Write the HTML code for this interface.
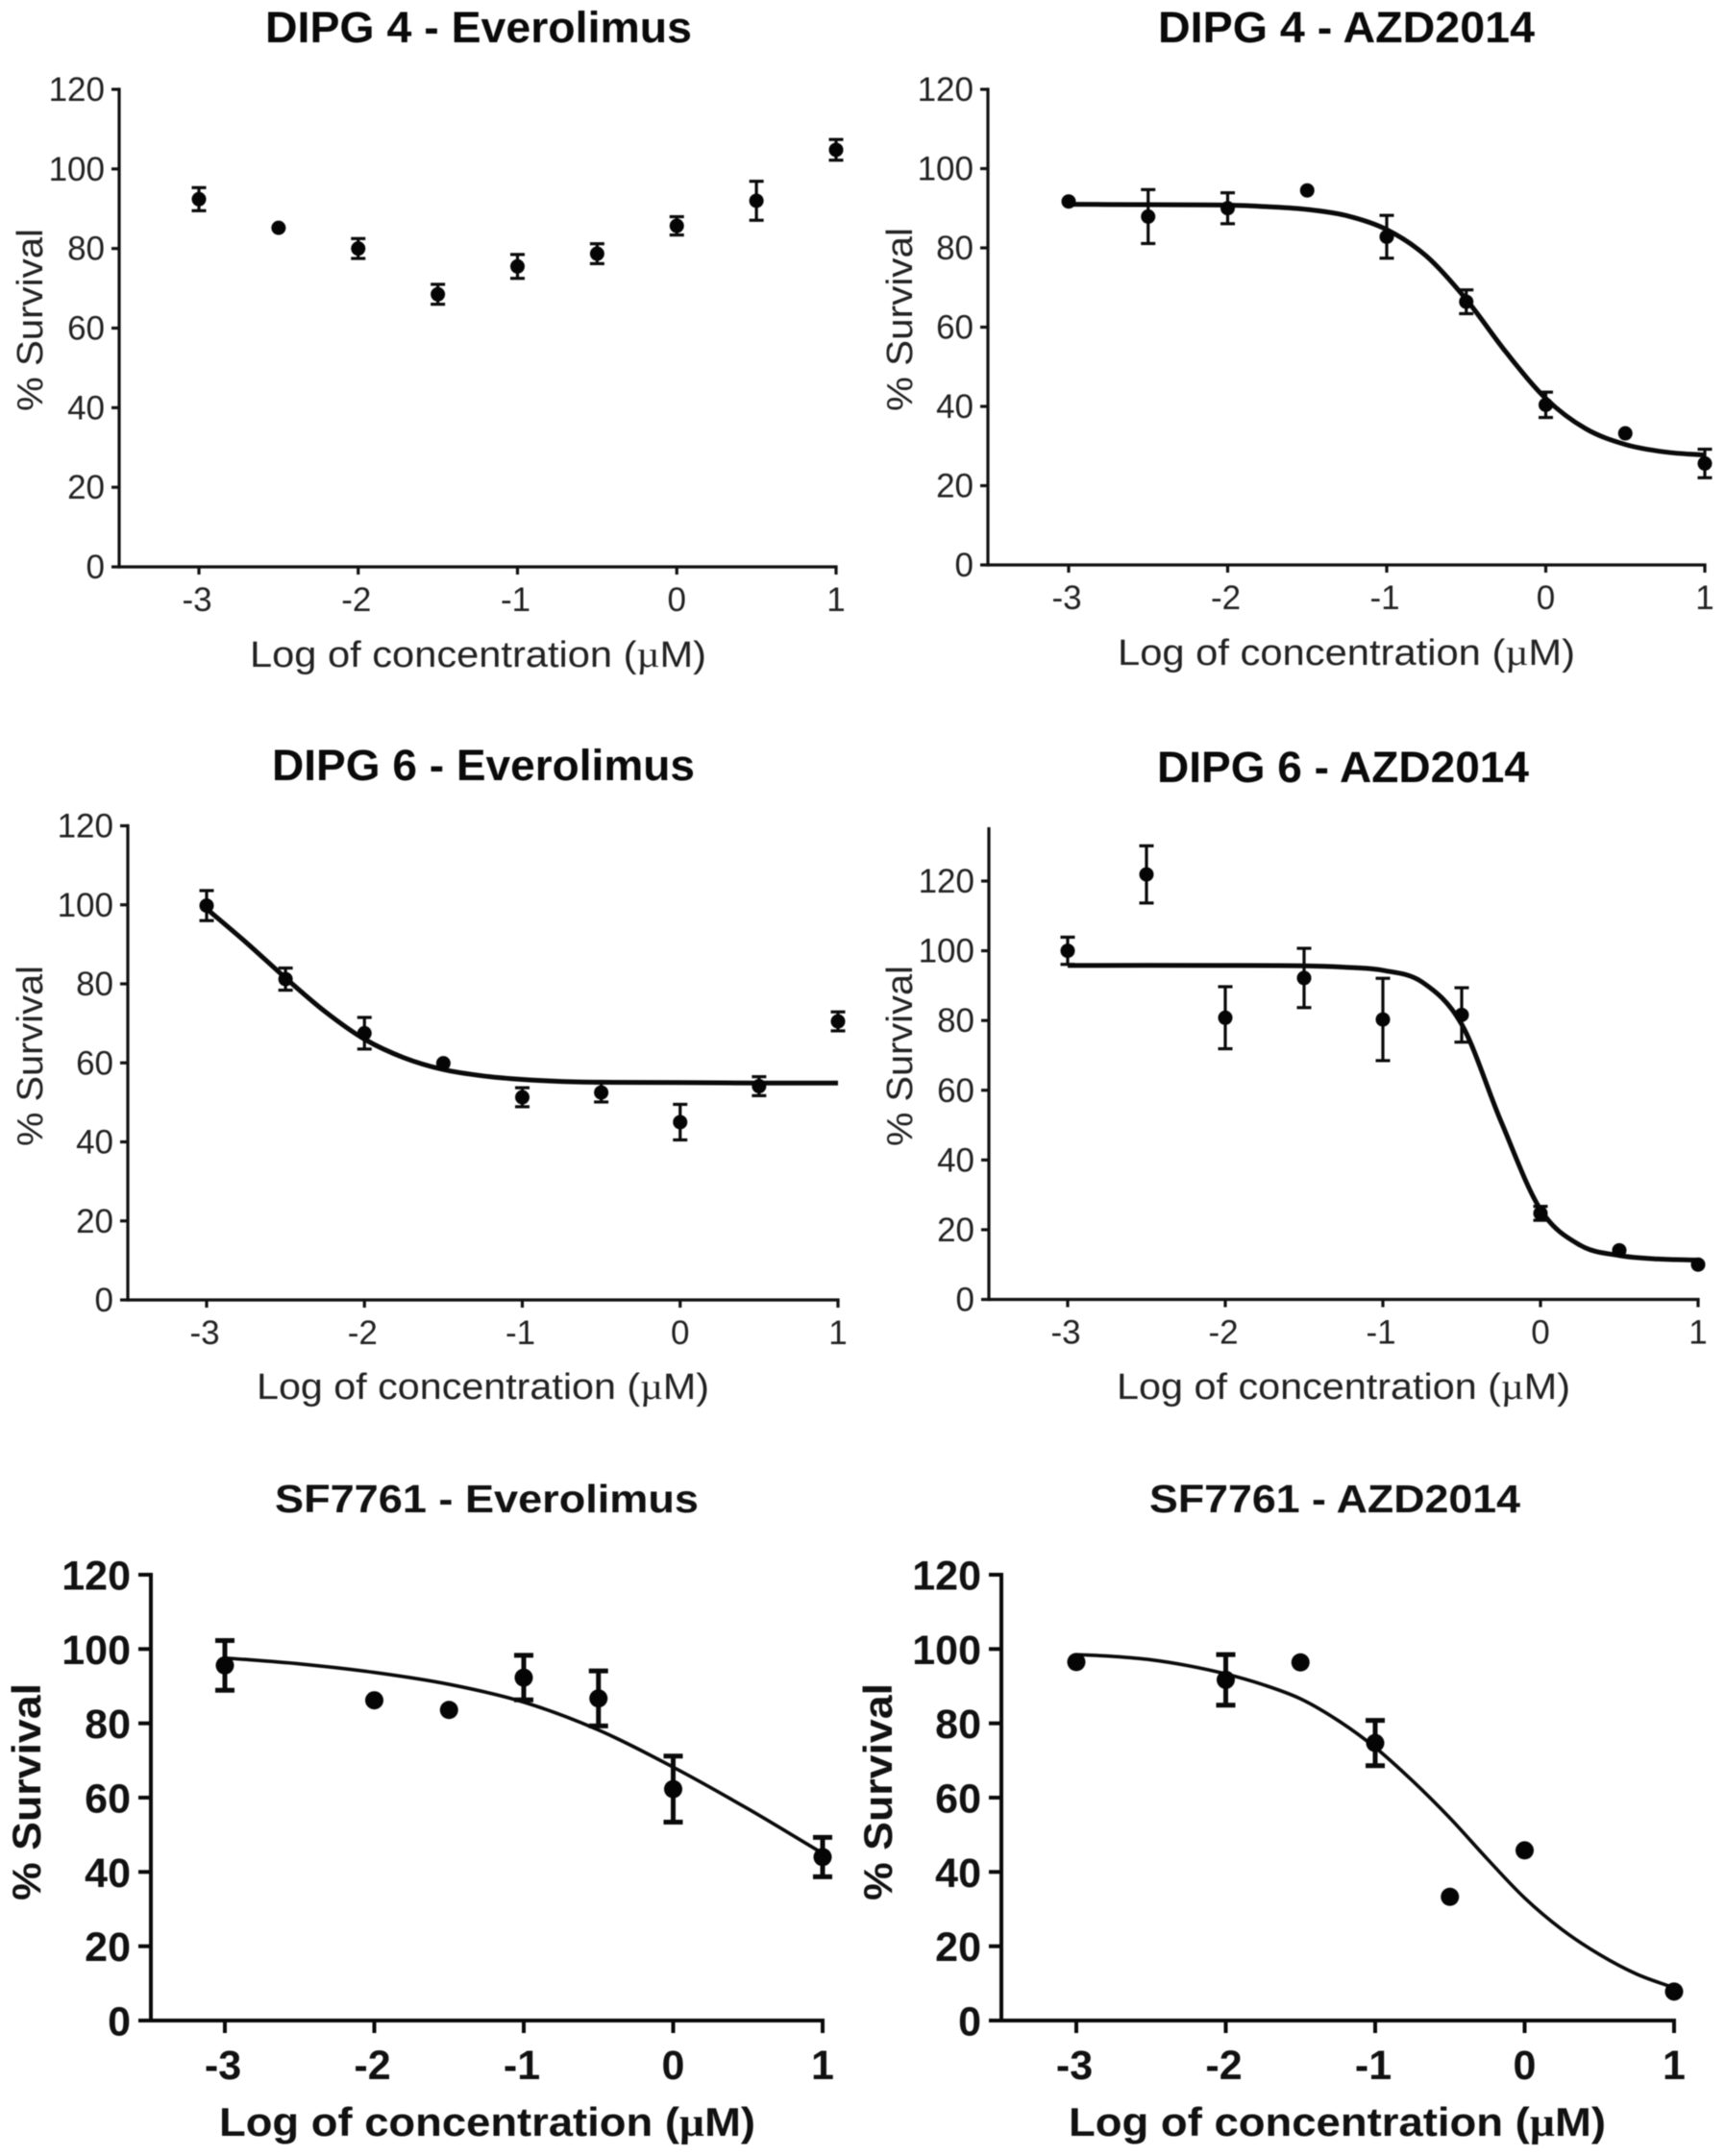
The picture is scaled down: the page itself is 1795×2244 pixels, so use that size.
<!DOCTYPE html>
<html>
<head>
<meta charset="utf-8">
<title>Dose response panels</title>
<style>
html,body{margin:0;padding:0;background:#fff;width:1795px;height:2244px;overflow:hidden}
svg{display:block;filter:blur(0.6px)}
text{font-family:"Liberation Sans",Arial,sans-serif}
.title{font-weight:bold;font-size:45px;fill:#0a0a0a}
.title-b{font-weight:bold;font-size:41px;fill:#111}
.lab{font-size:38px;fill:#222}
.lab-b{font-size:42px;font-weight:bold;fill:#111}
.mu{font-family:"Liberation Serif",serif}
</style>
</head>
<body>
<svg id="figure" width="1795" height="2244" viewBox="0 0 1795 2244" xmlns="http://www.w3.org/2000/svg">
  <rect width="1795" height="2244" fill="#fff"/>

  <g id="p1">
    <text class="title" x="276" y="44" textLength="444" lengthAdjust="spacingAndGlyphs">DIPG 4 - Everolimus</text>
    <text class="lab" x="260" y="694" textLength="475" lengthAdjust="spacingAndGlyphs">Log of concentration (<tspan class="mu">µ</tspan>M)</text>
    <text class="lab" transform="translate(44,428) rotate(-90)" textLength="190" lengthAdjust="spacingAndGlyphs">% Survival</text>
  </g>
  <g id="p2">
    <text class="title" x="1205" y="44" textLength="392" lengthAdjust="spacingAndGlyphs">DIPG 4 - AZD2014</text>
    <text class="lab" x="1163" y="692" textLength="476" lengthAdjust="spacingAndGlyphs">Log of concentration (<tspan class="mu">µ</tspan>M)</text>
    <text class="lab" transform="translate(949,428) rotate(-90)" textLength="191" lengthAdjust="spacingAndGlyphs">% Survival</text>
  </g>
  <g id="p3">
    <text class="title" x="283" y="812" textLength="440" lengthAdjust="spacingAndGlyphs">DIPG 6 - Everolimus</text>
    <text class="lab" x="267" y="1456" textLength="471" lengthAdjust="spacingAndGlyphs">Log of concentration (<tspan class="mu">µ</tspan>M)</text>
    <text class="lab" transform="translate(44,1193) rotate(-90)" textLength="188" lengthAdjust="spacingAndGlyphs">% Survival</text>
  </g>
  <g id="p4">
    <text class="title" x="1204" y="814" textLength="387" lengthAdjust="spacingAndGlyphs">DIPG 6 - AZD2014</text>
    <text class="lab" x="1162" y="1456" textLength="472" lengthAdjust="spacingAndGlyphs">Log of concentration (<tspan class="mu">µ</tspan>M)</text>
    <text class="lab" transform="translate(949,1193) rotate(-90)" textLength="188" lengthAdjust="spacingAndGlyphs">% Survival</text>
  </g>
  <g id="p5">
    <text class="title-b" x="286" y="1574" textLength="441" lengthAdjust="spacingAndGlyphs">SF7761 - Everolimus</text>
    <text class="lab-b" x="228" y="2223" textLength="558" lengthAdjust="spacingAndGlyphs">Log of concentration (<tspan class="mu">µ</tspan>M)</text>
    <text class="lab-b" transform="translate(42,1978) rotate(-90)" textLength="226" lengthAdjust="spacingAndGlyphs">% Survival</text>
  </g>
  <g id="p6">
    <text class="title-b" x="1196" y="1574" textLength="386" lengthAdjust="spacingAndGlyphs">SF7761 - AZD2014</text>
    <text class="lab-b" x="1112" y="2223" textLength="559" lengthAdjust="spacingAndGlyphs">Log of concentration (<tspan class="mu">µ</tspan>M)</text>
    <text class="lab-b" transform="translate(928,1978) rotate(-90)" textLength="226" lengthAdjust="spacingAndGlyphs">% Survival</text>
  </g>
</svg>

<script>
// Shared tick labels
const xTickLabels = [-3, -2, -1, 0, 1];
const yTickLabels = [0, 20, 40, 60, 80, 100, 120];

// DIPG 4 - Everolimus
const p1Doses = [-3, -2.5, -2, -1.5, -1, -0.5, 0, 0.5, 1];
const p1Survival = [92.4, 85.2, 80, 68.5, 75.5, 78.7, 85.7, 92, 104.8];
const p1Errors = [2.9, 0, 2.5, 2.5, 3, 2.5, 2.3, 4.9, 2.6];
const p1CurveDoses = [];
const p1CurveSurvival = [];

// DIPG 4 - AZD2014
const p2Doses = [-3, -2.5, -2, -1.5, -1, -0.5, 0, 0.5, 1];
const p2Survival = [91.7, 87.9, 90, 94.5, 82.8, 66.4, 40.4, 33.2, 25.6];
const p2Errors = [0, 6.8, 3.9, 0, 5.4, 3, 3.2, 0, 3.6];
const p2CurveDoses = [-3, -2.5, -2, -1.75, -1.5, -1.25, -1, -0.75, -0.5, -0.25, 0, 0.25, 0.5, 0.75, 1];
const p2CurveSurvival = [91, 90.9, 90.8, 90.4, 89.7, 88.1, 84.6, 77.9, 67, 53.7, 42, 34.4, 30.4, 28.5, 27.7];

// DIPG 6 - Everolimus
const p3Doses = [-3, -2.5, -2, -1.5, -1, -0.5, 0, 0.5, 1];
const p3Survival = [99.8, 81.2, 67.5, 59.9, 51.3, 52.5, 45, 54.1, 70.5];
const p3Errors = [3.8, 2.8, 4, 0, 2.4, 2.4, 4.5, 2.4, 2.4];
const p3CurveDoses = [-3, -2.75, -2.5, -2.25, -2, -1.75, -1.5, -1.25, -1, -0.75, -0.5, 0, 0.5, 1];
const p3CurveSurvival = [99, 90.5, 81.5, 73, 66, 61.3, 58.3, 56.7, 55.8, 55.3, 55.1, 55, 54.9, 54.9];

// DIPG 6 - AZD2014
const p4Doses = [-3, -2.5, -2, -1.5, -1, -0.5, 0, 0.5, 1];
const p4Survival = [100, 121.9, 80.8, 92.2, 80.3, 81.6, 24.7, 14.1, 10];
const p4Errors = [3.9, 8.2, 8.9, 8.5, 11.8, 7.8, 2, 0, 0];
const p4CurveDoses = [-3, -2, -1.5, -1.25, -1, -0.75, -0.5, -0.25, 0, 0.25, 0.5, 0.75, 1];
const p4CurveSurvival = [95.8, 95.8, 95.7, 95.3, 94.4, 91, 78.9, 51, 25.8, 15.6, 12.6, 11.6, 11.3];

// SF7761 - Everolimus
const p5Doses = [-3, -2, -1.5, -1, -0.5, 0, 1];
const p5Survival = [95.6, 86.2, 83.6, 92.3, 86.7, 62.3, 44];
const p5Errors = [6.7, 0, 0, 6, 7.4, 8.9, 5.3];
const p5CurveDoses = [-3, -2.5, -2, -1.5, -1, -0.5, 0, 0.5, 1];
const p5CurveSurvival = [97.6, 96, 93.7, 90.5, 85.7, 78.2, 68.2, 57, 45];

// SF7761 - AZD2014
const p6Doses = [-3, -2, -1.5, -1, -0.5, 0, 1];
const p6Survival = [96.5, 91.7, 96.4, 74.7, 33.3, 45.8, 7.8];
const p6Errors = [0, 6.8, 0, 6.1, 0, 0, 0];
const p6CurveDoses = [-3, -2.75, -2.5, -2.25, -2, -1.75, -1.5, -1.25, -1, -0.75, -0.5, -0.25, 0, 0.25, 0.5, 0.75, 1];
const p6CurveSurvival = [98.5, 98, 97.1, 95.5, 93.3, 90.4, 86.6, 80.8, 73.5, 64.5, 54.5, 43.5, 33, 24.5, 17.8, 12.5, 8.8];

const SVGNS = 'http://www.w3.org/2000/svg';

function mk(tag, parent, name, attrs) {
  const el = document.createElementNS(SVGNS, tag);
  
  
  for (const k in attrs) el.setAttribute(k, attrs[k]);
  parent.appendChild(el);
  return el;
}

function smoothPath(pts) {
  const n = pts.length;
  const slope = i => {
    const a = pts[Math.max(i - 1, 0)], b = pts[Math.min(i + 1, n - 1)];
    return (b[1] - a[1]) / (b[0] - a[0]);
  };
  let d = 'M' + pts[0][0].toFixed(2) + ' ' + pts[0][1].toFixed(2);
  for (let i = 0; i < n - 1; i++) {
    const p1 = pts[i], p2 = pts[i + 1], dx = p2[0] - p1[0];
    const c1x = p1[0] + dx / 3, c1y = p1[1] + slope(i) * dx / 3;
    const c2x = p2[0] - dx / 3, c2y = p2[1] - slope(i + 1) * dx / 3;
    d += 'C' + c1x.toFixed(2) + ' ' + c1y.toFixed(2) + ' ' + c2x.toFixed(2) + ' ' + c2y.toFixed(2) + ' ' + p2[0].toFixed(2) + ' ' + p2[1].toFixed(2);
  }
  return d;
}

function drawPanel(cfg, doses, survival, errors, curveDoses, curveSurvival) {
  const g = document.getElementById(cfg.id);
  const sx = v => cfg.xm3 + (v + 3) * (cfg.x1 - cfg.xm3) / 4;
  const sy = v => cfg.y0 + v * (cfg.y120 - cfg.y0) / 120;
  const ink = cfg.bold ? '#0a0a0a' : '#111';
  const textFill = cfg.bold ? '#111' : '#222';
  const weight = cfg.bold ? 'bold' : 'normal';

  // axes
  mk('line', g, 'y-axis', {x1: cfg.axisX, x2: cfg.axisX, y1: sy(cfg.yTop) - cfg.axisW / 2, y2: cfg.y0 + cfg.axisW / 2, stroke: ink, 'stroke-width': cfg.axisW});
  mk('line', g, 'x-axis', {x1: cfg.axisX, x2: cfg.x1 + cfg.axisW / 2, y1: cfg.y0, y2: cfg.y0, stroke: ink, 'stroke-width': cfg.axisW});

  yTickLabels.forEach(v => {
    mk('line', g, 'y-tick', {x1: cfg.axisX - cfg.tick, x2: cfg.axisX, y1: sy(v), y2: sy(v), stroke: ink, 'stroke-width': cfg.axisW});
    const t = mk('text', g, 'y-tick-label', {x: cfg.axisX - cfg.tick - cfg.labGap, y: sy(v) + cfg.yLabDy, 'text-anchor': 'end', 'font-size': cfg.tickFont, 'font-weight': weight, fill: textFill});
    t.textContent = v;
  });
  xTickLabels.forEach(v => {
    mk('line', g, 'x-tick', {x1: sx(v), x2: sx(v), y1: cfg.y0, y2: cfg.y0 + cfg.tick, stroke: ink, 'stroke-width': cfg.axisW});
    const t = mk('text', g, 'x-tick-label', {x: sx(v) - (v < 0 ? 2 : 0), y: cfg.y0 + cfg.xLabDy, 'text-anchor': 'middle', 'font-size': cfg.tickFont, 'font-weight': weight, fill: textFill});
    t.textContent = v;
  });

  // fitted curve
  if (curveDoses.length) {
    const pts = curveDoses.map((d, i) => [sx(d), sy(curveSurvival[i])]);
    mk('path', g, 'fit-curve', {d: smoothPath(pts), fill: 'none', stroke: '#0a0a0a', 'stroke-width': cfg.curveW});
  }

  // points and error bars
  doses.forEach((d, i) => {
    const cx = sx(d), cy = sy(survival[i]), e = errors[i];
    if (e > 0) {
      const yu = sy(survival[i] + e), yl = sy(survival[i] - e);
      mk('line', g, 'error-bar', {x1: cx, x2: cx, y1: yu, y2: yl, stroke: '#0a0a0a', 'stroke-width': cfg.errW});
      mk('line', g, 'error-cap-upper', {x1: cx - cfg.cap, x2: cx + cfg.cap, y1: yu, y2: yu, stroke: '#0a0a0a', 'stroke-width': cfg.errW});
      mk('line', g, 'error-cap-lower', {x1: cx - cfg.cap, x2: cx + cfg.cap, y1: yl, y2: yl, stroke: '#0a0a0a', 'stroke-width': cfg.errW});
    }
    mk('circle', g, 'data-point', {cx: cx, cy: cy, r: cfg.r, fill: '#050505'});
  });
}

const thin = {bold: false, axisW: 3.2, tick: 8, labGap: 7, tickFont: 35, yLabDy: 12, xLabDy: 46, curveW: 5, errW: 3.2, cap: 7.5, r: 7.5, yTop: 120};
const thick = {bold: true, axisW: 4, tick: 13, labGap: 8, tickFont: 43, yLabDy: 15.5, xLabDy: 61, curveW: 3.6, errW: 5, cap: 10, r: 9.5, yTop: 120};

drawPanel(Object.assign({}, thin, {id: 'p1', axisX: 124, xm3: 207, x1: 870, y0: 590, y120: 93}), p1Doses, p1Survival, p1Errors, p1CurveDoses, p1CurveSurvival);
drawPanel(Object.assign({}, thin, {id: 'p2', axisX: 1028, xm3: 1112, x1: 1774, y0: 588, y120: 93}), p2Doses, p2Survival, p2Errors, p2CurveDoses, p2CurveSurvival);
drawPanel(Object.assign({}, thin, {id: 'p3', axisX: 133, xm3: 215, x1: 872, y0: 1353, y120: 859.5}), p3Doses, p3Survival, p3Errors, p3CurveDoses, p3CurveSurvival);
drawPanel(Object.assign({}, thin, {id: 'p4', axisX: 1029, xm3: 1111, x1: 1767, y0: 1352.5, y120: 917, yTop: 135}), p4Doses, p4Survival, p4Errors, p4CurveDoses, p4CurveSurvival);
drawPanel(Object.assign({}, thick, {id: 'p5', axisX: 157, xm3: 234, x1: 856, y0: 2103, y120: 1639}), p5Doses, p5Survival, p5Errors, p5CurveDoses, p5CurveSurvival);
drawPanel(Object.assign({}, thick, {id: 'p6', axisX: 1042, xm3: 1120, x1: 1742, y0: 2103, y120: 1639}), p6Doses, p6Survival, p6Errors, p6CurveDoses, p6CurveSurvival);
</script>
</body>
</html>
